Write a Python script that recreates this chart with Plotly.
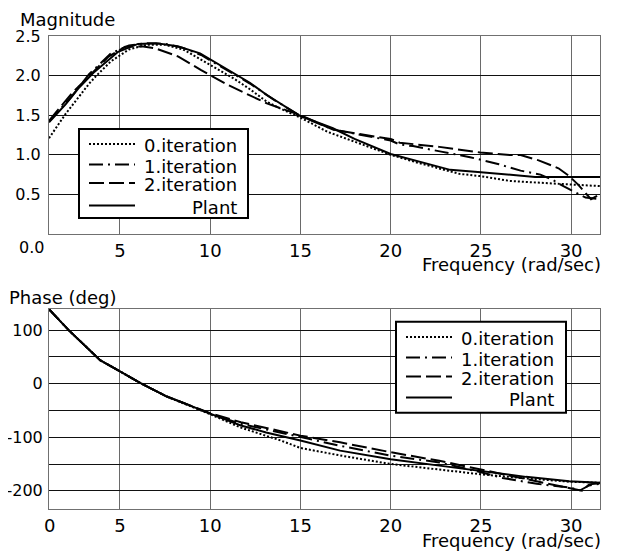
import plotly.graph_objects as go

# ---------------- data ----------------
# Magnitude plot
mag_plant_f = [1.07, 2.0, 2.7, 3.6, 4.9, 6.0, 7.0, 8.2, 9.44, 11.0, 12.2, 13.14, 14.05, 15.0, 16.8, 18.0, 20.0, 21.5, 23.3, 25.0, 26.5, 28.0, 30.0, 31.6]
mag_plant = [1.41, 1.64, 1.84, 2.05, 2.30, 2.40, 2.41, 2.37, 2.28, 2.07, 1.91, 1.755, 1.62, 1.49, 1.335, 1.20, 1.01, 0.915, 0.81, 0.78, 0.754, 0.72, 0.72, 0.72]

mag_it0_f = [1.07, 2.0, 3.3, 3.7, 4.5, 5.5, 6.5, 7.5, 8.5, 9.44, 11.29, 12.21, 13.14, 14.05, 15.0, 16.5, 17.7, 20.0, 21.5, 23.8, 25.0, 26.6, 28.8, 29.8, 31.6]
mag_it0 = [1.21, 1.52, 1.90, 2.0, 2.18, 2.33, 2.39, 2.39, 2.33, 2.205, 1.966, 1.827, 1.67, 1.566, 1.47, 1.29, 1.19, 1.00, 0.90, 0.76, 0.73, 0.67, 0.64, 0.625, 0.605]

mag_it1_f = [1.07, 2.3, 3.3, 4.5, 5.5, 6.5, 7.5, 8.5, 9.5, 11.0, 12.2, 13.5, 15.0, 16.8, 18.6, 20.0, 20.5, 21.24, 22.8, 24.4, 26.0, 27.2, 28.3, 29.0, 29.6, 30.4, 30.8, 31.6]
mag_it1 = [1.42, 1.73, 2.02, 2.28, 2.38, 2.41, 2.40, 2.35, 2.26, 2.06, 1.90, 1.70, 1.49, 1.32, 1.24, 1.18, 1.13, 1.11, 1.04, 0.97, 0.88, 0.80, 0.75, 0.68, 0.60, 0.51, 0.46, 0.44]

mag_it2_f = [1.07, 2.34, 3.26, 4.37, 5.29, 6.2, 6.95, 8.24, 9.5, 11.0, 12.2, 13.14, 15.0, 16.8, 18.6, 20.0, 20.5, 22.7, 24.95, 26.6, 27.2, 28.2, 29.3, 29.9, 30.4, 30.8, 31.1, 31.6]
mag_it2 = [1.43, 1.777, 1.986, 2.24, 2.365, 2.37, 2.345, 2.24, 2.07, 1.88, 1.75, 1.65, 1.50, 1.32, 1.25, 1.20, 1.153, 1.10, 1.03, 0.997, 0.997, 0.93, 0.83, 0.73, 0.62, 0.51, 0.44, 0.50]

# Phase plot
ph_plant_f = [1.07, 2.16, 3.9, 5.0, 6.2, 7.6, 8.24, 10.0, 11.7, 13.1, 15.0, 17.2, 20.0, 22.7, 24.95, 27.5, 29.9, 31.6]
ph_plant = [139, 100, 44, 23, 0, -24, -32, -56, -78, -91, -106, -125, -141, -153, -163, -174, -182, -185]

ph_it0_f = [1.07, 2.16, 3.9, 5.0, 6.2, 7.6, 10.0, 11.7, 13.9, 15.0, 17.2, 20.0, 21.6, 22.7, 24.95, 27.2, 29.9, 31.6]
ph_it0 = [139, 100, 44, 23, 0, -24, -57, -82, -106, -120, -134, -150, -156, -160, -169, -176, -183, -185]

ph_it1_f = [1.07, 2.16, 3.9, 5.0, 6.2, 7.6, 10.0, 11.7, 15.0, 17.2, 20.0, 22.7, 24.95, 26.2, 28.1, 29.9, 30.5, 31.0, 31.6]
ph_it1 = [139, 100, 44, 23, 0, -24, -56, -75, -100, -116, -134.5, -147, -165, -176, -187, -194, -199, -190, -187]

ph_it2_f = [1.07, 2.16, 3.9, 5.0, 6.2, 7.6, 10.0, 11.7, 13.9, 15.0, 17.2, 20.0, 22.7, 24.95, 27.2, 29.0, 30.2, 30.6, 31.0, 31.6]
ph_it2 = [139, 100, 44, 23, 0, -24, -55, -72, -88, -97, -109.5, -128, -144, -160, -177, -190, -198, -200, -188, -186]

series_names = ["0.iteration", "1.iteration", "2.iteration", "Plant"]
x_ticks = [5, 10, 15, 20, 25, 30]
mag_ticks = [0.5, 1.0, 1.5, 2.0, 2.5]
mag_tick_text = ["0.5", "1.0", "1.5", "2.0", "2.5"]
ph_ticks = [-200, -150, -100, -50, 0, 50, 100]
ph_tick_text = ["-200", "", "-100", "", "0", "", "100"]

# ---------------- styling ----------------
FONT = "DejaVu Sans"
FS = 18
YFS = 16
OFF = 8  # page body margin offset of the figure in the window
W, H = 618 - OFF, 559 - OFF
ML = 49 - OFF
MT = 36 - OFF
MR = W - (600 - OFF)
MB = H - (509 - OFF)
PW, PH = W - ML - MR, H - MT - MB

def px2x(px):
    return (px - OFF - ML) / PW

def py2y(py):
    return (H - MB - (py - OFF)) / PH

dashes = {
    "0.iteration": "2px,2px",
    "1.iteration": "14px,5px,2px,5px",
    "2.iteration": "15px,5px",
    "Plant": "solid",
}
LW = 2

fig = go.Figure()
mag_sets = [(mag_it0_f, mag_it0), (mag_it1_f, mag_it1), (mag_it2_f, mag_it2), (mag_plant_f, mag_plant)]
ph_sets = [(ph_it0_f, ph_it0), (ph_it1_f, ph_it1), (ph_it2_f, ph_it2), (ph_plant_f, ph_plant)]
for name, (fx, fy) in zip(series_names, mag_sets):
    fig.add_trace(go.Scatter(x=fx, y=fy, mode="lines", name=name, showlegend=False,
                             line=dict(color="black", width=LW, dash=dashes[name]),
                             xaxis="x", yaxis="y"))
for name, (fx, fy) in zip(series_names, ph_sets):
    fig.add_trace(go.Scatter(x=fx, y=fy, mode="lines", name=name, showlegend=False,
                             line=dict(color="black", width=LW, dash=dashes[name]),
                             xaxis="x2", yaxis="y2"))

top_dom = [py2y(234), 1.0]
bot_dom = [0.0, py2y(308.7)]

axis_common = dict(showline=True, mirror=True, linecolor="#707070", linewidth=1,
                   zeroline=False, ticks="", automargin=False)
xfont = dict(family=FONT, size=FS, color="black")
yfont = dict(family=FONT, size=YFS, color="black")

fig.update_layout(
    template="none",
    width=W, height=H,
    margin=dict(l=ML, r=MR, t=MT, b=MB, pad=0, autoexpand=False),
    paper_bgcolor="white", plot_bgcolor="white",
    font=dict(family=FONT, size=FS, color="black"),
    xaxis=dict(domain=[0, 1], range=[1.07, 31.6], anchor="y", tickvals=x_ticks, tickfont=xfont,
               showgrid=True, gridcolor="#6a6a6a", gridwidth=1, **axis_common),
    yaxis=dict(domain=top_dom, range=[0, 2.5], anchor="x", tickvals=mag_ticks, ticktext=mag_tick_text,
               tickfont=yfont, showgrid=True, gridcolor="#111111", gridwidth=1, ticklabelstandoff=4,
               **axis_common),
    xaxis2=dict(domain=[0, 1], range=[1.07, 31.6], anchor="y2", tickvals=x_ticks, tickfont=xfont,
                showgrid=True, gridcolor="#6a6a6a", gridwidth=1, **axis_common),
    yaxis2=dict(domain=bot_dom, range=[-234, 140], anchor="x2", tickvals=ph_ticks, ticktext=ph_tick_text,
                tickfont=yfont, showgrid=True, gridcolor="#111111", gridwidth=1, ticklabelstandoff=2,
                **axis_common),
    showlegend=False,
)

ann = []
def text(t, px, py, xa="left", size=FS, ya="middle"):
    ann.append(dict(text=t, x=px2x(px), y=py2y(py), xref="paper", yref="paper",
                    xanchor=xa, yanchor=ya, showarrow=False, borderpad=0,
                    font=dict(family=FONT, size=size, color="black")))

text("Magnitude", 19, 8, ya="top")
text("Phase (deg)", 8, 297)
text("Frequency (rad/sec)", 602, 264, "right")
text("Frequency (rad/sec)", 602, 540, "right")
text("0.0", 45, 248, "right", YFS)
text("0", 49, 525, "center")

shapes = []
def legend(box, line_x, rows, text_right):
    x0, x1, y0, y1 = box
    shapes.append(dict(type="rect", xref="paper", yref="paper",
                       x0=px2x(x0), x1=px2x(x1), y0=py2y(y1), y1=py2y(y0),
                       line=dict(color="black", width=2), fillcolor="white", layer="above"))
    for name, ry in zip(series_names, rows):
        shapes.append(dict(type="line", xref="paper", yref="paper",
                           x0=px2x(line_x[0]), x1=px2x(line_x[1]), y0=py2y(ry), y1=py2y(ry),
                           line=dict(color="black", width=LW, dash=dashes[name]), layer="above"))
        text(name, text_right, ry + 1.5, "right")

legend((79, 248, 129, 218), (89, 135), [144, 164.5, 183, 205.5], 238)
legend((396, 566, 321.7, 412.7), (406, 452), [337, 357.5, 376.5, 397.5], 555)

fig.update_layout(annotations=ann, shapes=shapes)
fig.write_html("out.html")
